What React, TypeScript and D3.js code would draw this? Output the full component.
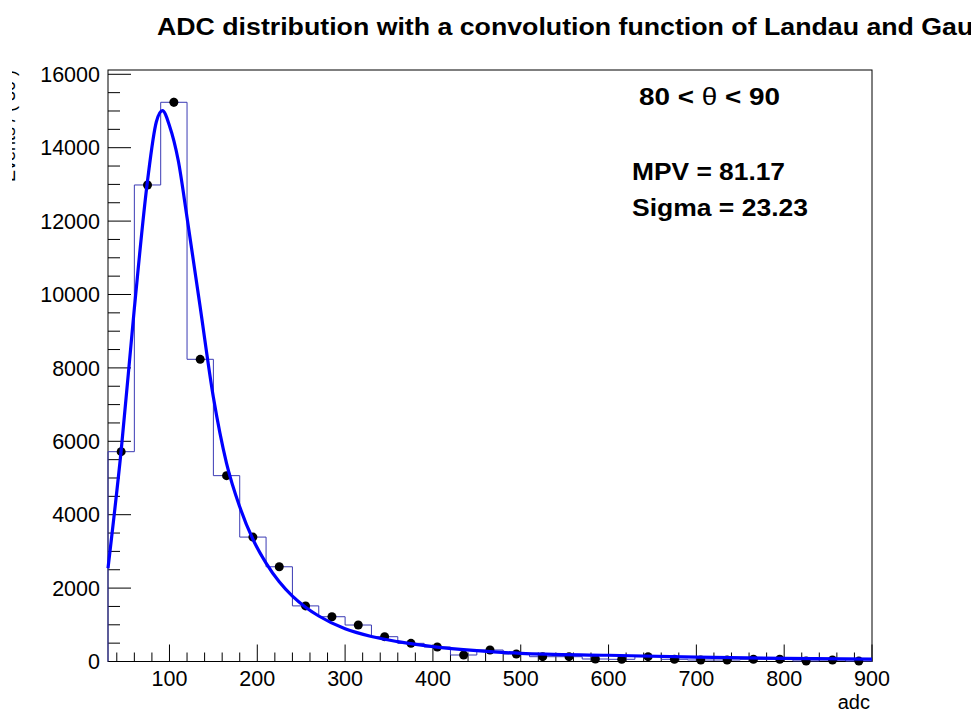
import React from "react";
import * as d3 from "d3";

// histogram: 30-wide bins from 30 to 900, counts per bin
const binEdgesLow = [
  30, 60, 90, 120, 150, 180, 210, 240, 270, 300, 330, 360, 390, 420, 450,
  480, 510, 540, 570, 600, 630, 660, 690, 720, 750, 780, 810, 840, 870,
];
const binWidth = 30;
const counts = [
  5717, 12984, 15237, 8234, 5064, 3390, 2581, 1515, 1220, 994, 676, 495, 395,
  177, 313, 204, 131, 131, 68, 60, 131, 60, 41, 41, 60, 60, 15, 41, 12,
];

// Landau (x) Gauss fit curve
const fitX = [
  30, 45, 60, 75, 85, 92, 100, 110, 120, 135, 150, 165, 180, 195, 210, 225,
  240, 255, 270, 300, 330, 360, 400, 450, 500, 600, 700, 800, 900,
];
const fitY = [
  2540, 5750, 9620, 13100, 14700, 15010, 14600, 13650, 12100, 9650, 7200,
  5400, 4215, 3330, 2680, 2170, 1780, 1480, 1240, 890, 680, 540, 404, 295,
  223, 170, 120, 85, 65,
];

const xTicks = [100, 200, 300, 400, 500, 600, 700, 800, 900];
const yTicks = [0, 2000, 4000, 6000, 8000, 10000, 12000, 14000, 16000];

const title = "ADC distribution with a convolution function of Landau and Gauss";
const yTitle = "Events / ( 30 )";
const xTitle = "adc";
const mpvText = "MPV = 81.17";
const sigmaText = "Sigma = 23.23";

const W = 971;
const H = 712;
const frame = { left: 108, right: 872, top: 70, bottom: 661.5 };
const font = "'Liberation Sans', Arial, Helvetica, sans-serif";

export default function App() {
  const x = d3.scaleLinear().domain([30, 900]).range([frame.left, frame.right]);
  const y = d3.scaleLinear().domain([0, 16117]).range([frame.bottom, frame.top]);

  // step outline of the histogram
  let stepD = `M${x(binEdgesLow[0])},${y(0)}`;
  binEdgesLow.forEach((lo, i) => {
    stepD += `L${x(lo)},${y(counts[i])}L${x(lo + binWidth)},${y(counts[i])}`;
  });
  stepD += `L${x(binEdgesLow[binEdgesLow.length - 1] + binWidth)},${y(0)}`;

  const fitLine = d3
    .line<number>()
    .x((_, i) => x(fitX[i]))
    .y((d) => y(d))
    .curve(d3.curveMonotoneX);

  const xMinor = d3.range(40, 901, 20);
  const yMinor = d3.range(0, 16001, 500);

  return (
    <svg
      width={W}
      height={H}
      style={{ position: "absolute", left: 0, top: 0, background: "#fff" }}
    >
      <defs>
        <clipPath id="ytclip">
          <rect x={12} y={0} width={100} height={H} />
        </clipPath>
      </defs>
      <rect x={0} y={0} width={W} height={H} fill="#fff" />

      {/* title */}
      <text
        x={157}
        y={35}
        fontFamily={font}
        fontWeight="bold"
        fontSize={23}
        textLength={846}
        lengthAdjust="spacingAndGlyphs"
        fill="#000"
      >
        {title}
      </text>

      {/* frame */}
      <rect
        x={frame.left}
        y={frame.top}
        width={frame.right - frame.left}
        height={frame.bottom - frame.top}
        fill="none"
        stroke="#000"
        strokeWidth={1}
      />

      {/* y ticks */}
      {yMinor.map((v) => (
        <line
          key={"ym" + v}
          x1={frame.left}
          x2={frame.left + (v % 2000 === 0 ? 23 : 12)}
          y1={y(v)}
          y2={y(v)}
          stroke="#000"
          strokeWidth={1}
        />
      ))}
      {yTicks.map((v) => (
        <text
          key={"yl" + v}
          x={100}
          y={y(v)}
          dy="0.36em"
          textAnchor="end"
          fontFamily={font}
          fontSize={21.5}
          fill="#000"
        >
          {v}
        </text>
      ))}

      {/* x ticks */}
      {xMinor.map((v) => (
        <line
          key={"xm" + v}
          x1={x(v)}
          x2={x(v)}
          y1={frame.bottom}
          y2={frame.bottom - (v % 100 === 0 ? 17 : 9)}
          stroke="#000"
          strokeWidth={1}
        />
      ))}
      {xTicks.map((v) => (
        <text
          key={"xl" + v}
          x={x(v)}
          y={685.5}
          textAnchor="middle"
          fontFamily={font}
          fontSize={21.5}
          fill="#000"
        >
          {v}
        </text>
      ))}

      {/* axis titles */}
      <text
        x={870}
        y={709}
        textAnchor="end"
        fontFamily={font}
        fontSize={20}
        fill="#000"
      >
        {xTitle}
      </text>
      <g clipPath="url(#ytclip)">
        <text
          transform={`translate(15,${frame.top}) rotate(-90)`}
          textAnchor="end"
          fontFamily={font}
          fontSize={18}
          fill="#000"
        >
          {yTitle}
        </text>
      </g>

      {/* histogram */}
      <path d={stepD} fill="none" stroke="#3a3ab4" strokeWidth={1} />

      {/* data points with errors */}
      {counts.map((c, i) => {
        const cx = x(binEdgesLow[i] + binWidth / 2);
        const e = Math.sqrt(c);
        return (
          <g key={"p" + i}>
            <line
              x1={cx}
              x2={cx}
              y1={y(c + e)}
              y2={Math.min(y(Math.max(c - e, 0)), frame.bottom)}
              stroke="#000"
              strokeWidth={1}
            />
            <circle cx={cx} cy={y(c)} r={4.5} fill="#000" />
          </g>
        );
      })}

      {/* fit */}
      <path
        d={fitLine(fitY) || ""}
        fill="none"
        stroke="#0000ff"
        strokeWidth={3.2}
        strokeLinejoin="round"
      />

      {/* annotations */}
      <text
        x={639}
        y={105}
        fontFamily={font}
        fontWeight="bold"
        fontSize={23}
        textLength={141}
        lengthAdjust="spacingAndGlyphs"
        fill="#000"
      >
        <tspan>{"80 <  "}</tspan>
        <tspan fontWeight="normal">θ</tspan>
        <tspan>{" < 90"}</tspan>
      </text>
      <text
        x={632}
        y={180}
        fontFamily={font}
        fontWeight="bold"
        fontSize={23.5}
        textLength={153}
        lengthAdjust="spacingAndGlyphs"
        fill="#000"
      >
        {mpvText}
      </text>
      <text
        x={632}
        y={216}
        fontFamily={font}
        fontWeight="bold"
        fontSize={23.5}
        textLength={176}
        lengthAdjust="spacingAndGlyphs"
        fill="#000"
      >
        {sigmaText}
      </text>
    </svg>
  );
}
